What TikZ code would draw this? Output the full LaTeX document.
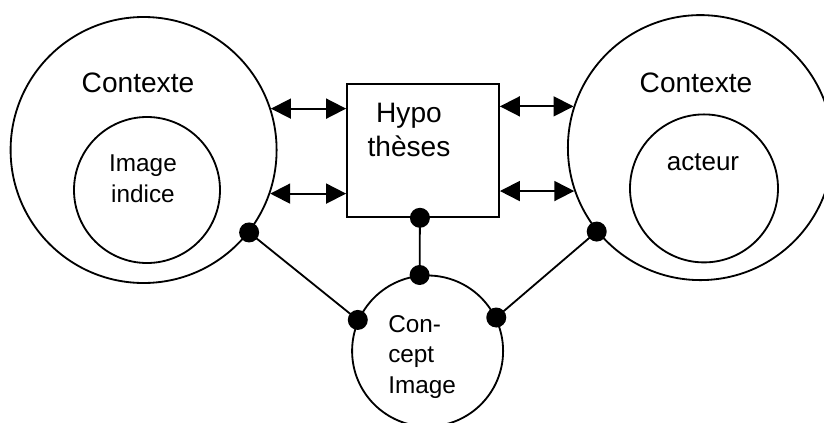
\documentclass[tikz,border=0pt]{standalone}
\usepackage{fontspec}
\setmainfont{Liberation Sans}
\usetikzlibrary{arrows.meta,positioning,calc}

\begin{document}
\begin{tikzpicture}[
		ring/.style = {circle, draw, line width = 1.3pt, inner sep = 0pt},
		dot/.style = {circle, fill, inner sep = 0pt, minimum size = 0.5cm},
		link/.style = {line width = 1.3pt},
		twoway/.style = {line width = 1.3pt, {Triangle[length=0.5cm, width=0.5cm]}-{Triangle[length=0.5cm, width=0.5cm]}},
		bigtxt/.style = {font = \fontsize{20}{24.2}\selectfont},
		smalltxt/.style = {font = \fontsize{17.3}{22}\selectfont}
	]
		\useasboundingbox (0,0) rectangle (20.6,10.55);
		% contexts and hypotheses
		\node [ring, minimum size = 6.65cm](ctxL) at (3.59,6.8) {};
		\node [ring, minimum size = 3.65cm](imgind) at (3.675,5.8) {};
		\node [ring, minimum size = 6.625cm](ctxR) at (17.51,6.86) {};
		\node [ring, minimum size = 3.7cm](act) at (17.6,5.84) {};
		\node [draw, line width = 1.3pt, minimum width = 3.8cm, minimum height = 3.325cm, inner sep = 0pt](hyp) at (10.575,6.79) {};
		\node [ring, minimum size = 3.775cm](concept) at (10.69,1.775) {};
		% texts
		\node [bigtxt, anchor = base](ctxL_txt) at (3.45,8.23) {Contexte};
		\node [bigtxt, anchor = base](ctxR_txt) at (17.4,8.25) {Contexte};
		\node [smalltxt, align = center](imgind_txt) at (3.575,6.075) {Image\\indice};
		\node [bigtxt, align = center](hyp_txt) at (10.225,7.3) {Hypo\\thèses};
		\node [font = \fontsize{18.5}{22}\selectfont, anchor = base](act_txt) at (17.575,6.3) {acteur};
		\node [smalltxt, align = left, anchor = west, inner sep = 0pt](concept_txt) at (9.7,1.625) {Con-\\cept\\Image};
		% arrows
		\draw [twoway] (ctxL.18) -- (ctxL.18 -| hyp.west);
		\draw [twoway] (ctxL.-19) -- (ctxL.-19 -| hyp.west);
		\draw [twoway] (hyp.east |- ctxR.162) -- (ctxR.162);
		\draw [twoway] (hyp.east |- ctxR.199) -- (ctxR.199);
		% links to the concept
		\coordinate (hyp_b) at ($(hyp.south west)!0.48!(hyp.south east)$);
		\draw [link] (ctxL.-38) -- (concept.156);
		\draw [link] (ctxR.219) -- (concept.26);
		\draw [link] (hyp_b) -- (concept.96);
		\node [dot](d1) at (ctxL.-38) {};
		\node [dot](d2) at (concept.156) {};
		\node [dot](d3) at (ctxR.219) {};
		\node [dot](d4) at (concept.26) {};
		\node [dot](d5) at (hyp_b) {};
		\node [dot](d6) at (concept.96) {};
\end{tikzpicture}
\end{document}
